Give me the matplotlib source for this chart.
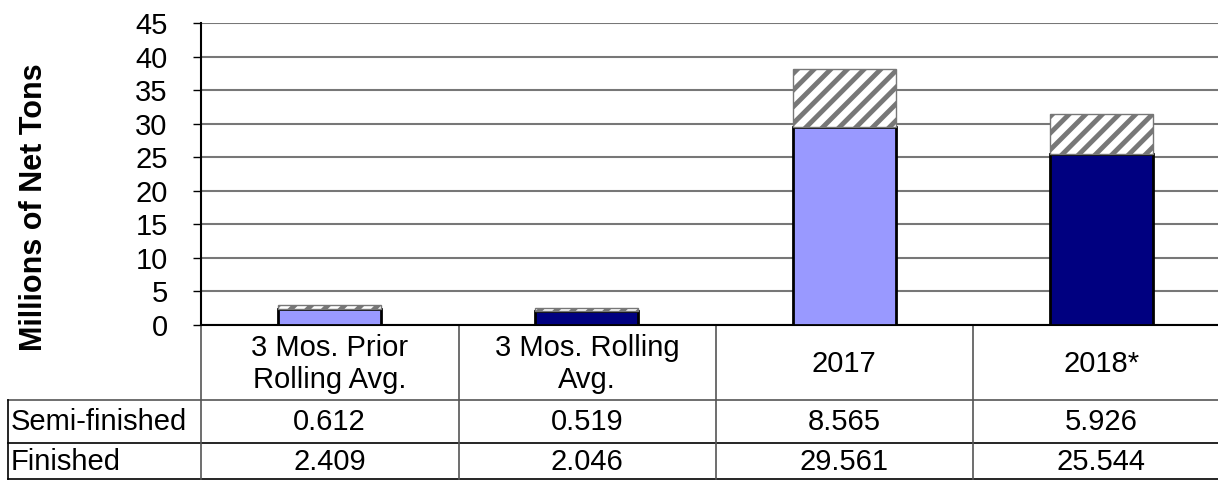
import numpy as np
import matplotlib
matplotlib.use("Agg")
import matplotlib.pyplot as plt
from matplotlib.transforms import blended_transform_factory

categories = ["3 Mos. Prior\nRolling Avg.", "3 Mos. Rolling\nAvg.", "2017", "2018*"]
finished = [2.409, 2.046, 29.561, 25.544]
semi_finished = [0.612, 0.519, 8.565, 5.926]
finished_labels = ["2.409", "2.046", "29.561", "25.544"]
semi_labels = ["0.612", "0.519", "8.565", "5.926"]
bar_colors = ["#9999FF", "#000080", "#9999FF", "#000080"]

plt.rcParams["font.family"] = ["Liberation Sans", "DejaVu Sans"]
plt.rcParams["hatch.color"] = "#a0a0a0"
plt.rcParams["hatch.linewidth"] = 3.5

W, H = 1218, 480
fig = plt.figure(figsize=(W / 100, H / 100), dpi=100)
FS = 21

# axes: left edge at 201 px, right edge past the picture at 1230 px
x0, x1, ytop, ybot = 201, 1230, 23, 325
ax = fig.add_axes([x0 / W, 1 - ybot / H, (x1 - x0) / W, (ybot - ytop) / H])

x = np.arange(len(categories))
ax.bar(x, finished, width=0.4, color=bar_colors, edgecolor="black", linewidth=2, zorder=3)
ax.bar(x, semi_finished, width=0.4, bottom=finished, color="white",
       edgecolor="#777777", hatch="//", linewidth=1, zorder=3)

ax.set_xlim(-0.5, 3.5)
ax.set_ylim(0, 45)
ax.set_yticks(range(0, 50, 5))
ax.tick_params(axis="y", labelsize=FS, length=6, width=1, direction="out", pad=18)
ax.tick_params(axis="x", bottom=False, labelbottom=False)
ax.yaxis.grid(True, color="#777777", linewidth=1.5, zorder=0)
for s in ["top", "right"]:
    ax.spines[s].set_visible(False)
ax.spines["left"].set_linewidth(1.5)
ax.spines["bottom"].set_linewidth(1.5)
ax.set_ylabel("Millions of Net Tons", fontsize=22, fontweight="bold")
ax.yaxis.set_label_coords(-(x0 - 49) / (x1 - x0), 0.39)

# table below the plot (in axes fraction coords from pixel positions)
def fx(px):
    return (px - x0) / (x1 - x0)

def fy(py):
    return (ybot - py) / (ybot - ytop)

bt = blended_transform_factory(ax.transData, ax.transAxes)
col_x = [201, 459, 716, 973]

ax.plot([fx(8), fx(1230)], [fy(400), fy(400)], color="#555555", lw=1.2,
        transform=ax.transAxes, clip_on=False)
ax.plot([fx(8), fx(1230)], [fy(443), fy(443)], color="black", lw=1.2,
        transform=ax.transAxes, clip_on=False)
ax.plot([fx(8), fx(1230)], [fy(479), fy(479)], color="black", lw=1.2,
        transform=ax.transAxes, clip_on=False)
ax.plot([fx(8), fx(8)], [fy(400), fy(479)], color="black", lw=1.2,
        transform=ax.transAxes, clip_on=False)
for cx in col_x:
    ax.plot([fx(cx), fx(cx)], [fy(325), fy(479)], color="#555555", lw=1.2,
            transform=ax.transAxes, clip_on=False)

for i, cat in enumerate(categories):
    ax.text(i, fy(364), cat, transform=bt, ha="center", va="center",
            fontsize=FS, linespacing=1.15, clip_on=False)
    ax.text(i, fy(422), semi_labels[i], transform=bt, ha="center", va="center",
            fontsize=FS, clip_on=False)
    ax.text(i, fy(462), finished_labels[i], transform=bt, ha="center", va="center",
            fontsize=FS, clip_on=False)

ax.text(fx(11), fy(422), "Semi-finished", transform=ax.transAxes, ha="left",
        va="center", fontsize=FS, clip_on=False)
ax.text(fx(11), fy(462), "Finished", transform=ax.transAxes, ha="left",
        va="center", fontsize=FS, clip_on=False)

fig.savefig("out.png", dpi=100)
